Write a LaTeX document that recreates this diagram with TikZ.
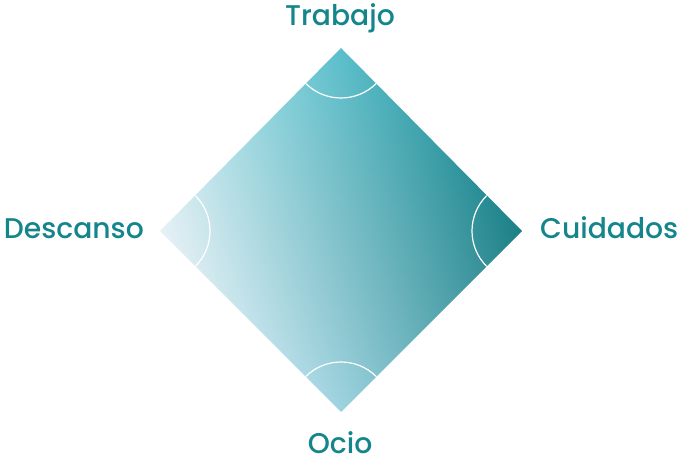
\documentclass[tikz,border=0pt]{standalone}
\usepackage{fontspec}
\newfontfamily\labfont{Poppins Medium}
\definecolor{labcol}{HTML}{14868B}
\pgfdeclarefunctionalshading{diamondshade}{\pgfpointorigin}{\pgfpoint{100bp}{100bp}}{}{
50 sub exch 25 sub 2 copy add 50 div 3 1 roll exch sub 50 div
dup 0 lt {pop 0} if dup 1 gt {pop 1} if exch
dup 0 lt {pop 0} if dup 1 gt {pop 1} if exch
1 index -0.549 mul 1 index -0.286 mul add 2 index 2 index mul 0.039 mul add 0.902 add
2 index -0.196 mul 2 index -0.118 mul add 3 index 3 index mul -0.133 mul add 0.945 add
3 index -0.165 mul 3 index -0.086 mul add 4 index 4 index mul -0.185 mul add 0.961 add
5 -2 roll pop pop
}
\tikzset{
  lab/.style={inner sep=0pt, text=labcol, xscale=0.99, font=\labfont\fontsize{28.5}{34}\selectfont},
  cornerarc/.style={draw=white, line width=1.2pt}
}
\begin{document}
\begin{tikzpicture}[x=1pt,y=1pt]
\useasboundingbox (0,0) rectangle (682,462);
\coordinate (T) at (341,414);
\coordinate (R) at (522,231);
\coordinate (B) at (341,50);
\coordinate (L) at (160,231);
\shade[shading=diamondshade] (T) -- (R) -- (B) -- (L) -- cycle;
\draw[cornerarc] (T) ++(225:50) arc[start angle=225, end angle=315, radius=50];
\draw[cornerarc] (R) ++(135:50) arc[start angle=135, end angle=225, radius=50];
\draw[cornerarc] (B) ++(45:50) arc[start angle=45, end angle=135, radius=50];
\draw[cornerarc] (L) ++(-45:50) arc[start angle=-45, end angle=45, radius=50];
\node[lab, anchor=base] (trabajo) at (340,436) {Trabajo};
\node[lab, anchor=base west] (cuidados) at (540,223) {Cuidados};
\node[lab, anchor=base east] (descanso) at (144,223) {Descanso};
\node[lab, anchor=base] (ocio) at (340,8) {Ocio};
\end{tikzpicture}
\end{document}
